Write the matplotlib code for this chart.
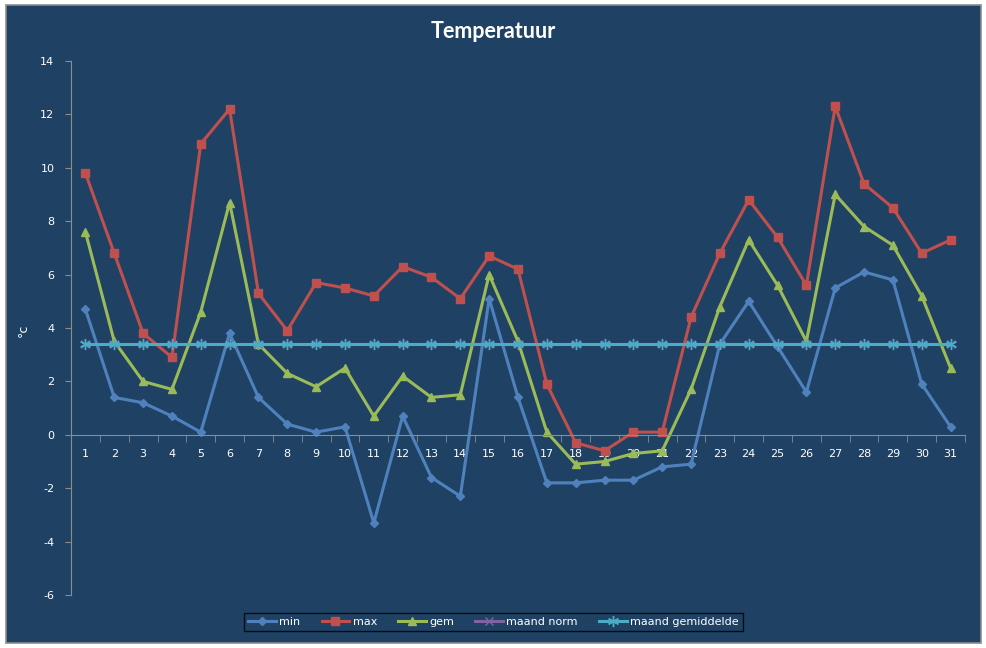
import matplotlib.pyplot as plt
from matplotlib.patches import Rectangle
from matplotlib.ticker import FixedLocator

plt.rcParams["axes.unicode_minus"] = False

days = list(range(1, 32))

t_min = [4.7, 1.4, 1.2, 0.7, 0.1, 3.8, 1.4, 0.4, 0.1, 0.3,
         -3.3, 0.7, -1.6, -2.3, 5.1, 1.4, -1.8, -1.8, -1.7, -1.7,
         -1.2, -1.1, 3.4, 5.0, 3.3, 1.6, 5.5, 6.1, 5.8, 1.9, 0.3]
t_max = [9.8, 6.8, 3.8, 2.9, 10.9, 12.2, 5.3, 3.9, 5.7, 5.5,
         5.2, 6.3, 5.9, 5.1, 6.7, 6.2, 1.9, -0.3, -0.6, 0.1,
         0.1, 4.4, 6.8, 8.8, 7.4, 5.6, 12.3, 9.4, 8.5, 6.8, 7.3]
t_gem = [7.6, 3.5, 2.0, 1.7, 4.6, 8.7, 3.4, 2.3, 1.8, 2.5,
         0.7, 2.2, 1.4, 1.5, 6.0, 3.5, 0.1, -1.1, -1.0, -0.7,
         -0.6, 1.7, 4.8, 7.3, 5.6, 3.5, 9.0, 7.8, 7.1, 5.2, 2.5]
maand_norm = [3.4] * 31
maand_gem = [3.4] * 31

bg = "#1F4264"
grey = "#8C8C8C"

fig = plt.figure(figsize=(9.87, 6.48), dpi=100, facecolor="white")

# chart area with grey border
fig.patches.append(Rectangle((6 / 987, 5 / 648), 975 / 987, 638 / 648,
                             transform=fig.transFigure, facecolor=bg,
                             edgecolor=grey, linewidth=1.2, zorder=-10))

ax = fig.add_axes([71 / 987, 1 - 595 / 648, 894 / 987, 534 / 648])
ax.patch.set_alpha(0)

ax.plot(days, t_min, color="#4F81BD", lw=2.2, marker="D", ms=4.5, label="min")
ax.plot(days, t_max, color="#C0504D", lw=2.2, marker="s", ms=6, label="max")
ax.plot(days, t_gem, color="#9BBB59", lw=2.2, marker="^", ms=6, label="gem")
ax.plot(days, maand_norm, color="#8064A2", lw=2.2, marker="x", ms=6,
        label="maand norm")
ax.plot(days, maand_gem, color="#4BACC6", lw=2.2, marker=(6, 2, 0), ms=8,
        mew=1, label="maand gemiddelde")

ax.set_xlim(0.5, 31.5)
ax.set_ylim(-6, 14)
ax.set_yticks(range(-6, 15, 2))

for side in ["top", "right"]:
    ax.spines[side].set_visible(False)
ax.spines["left"].set_color(grey)
ax.spines["bottom"].set_color(grey)
ax.spines["bottom"].set_position(("data", 0))

ax.set_xticks(days)
ax.set_xticklabels([str(d) for d in days])
ax.xaxis.set_minor_locator(FixedLocator([d + 0.5 for d in range(0, 32)]))
ax.tick_params(axis="x", which="major", length=0, pad=10, labelsize=8,
               labelcolor="white")
ax.tick_params(axis="x", which="minor", length=5, color=grey, direction="out")
ax.tick_params(axis="y", length=4, color=grey, labelsize=8,
               labelcolor="white", pad=8)

ax.set_ylabel("°c", color="white", fontsize=9)
ax.yaxis.set_label_coords(-41 / 894, (595 - 330) / 534)

fig.text(0.5, 1 - 32 / 648, "Temperatuur", ha="center", va="center",
         color="white", fontsize=15.5, fontweight="bold", family="Lato")

leg = fig.legend(loc="center", bbox_to_anchor=(0.5, 1 - 622 / 648), ncol=5,
                 frameon=True, fancybox=False, fontsize=8, handlelength=2.5,
                 handletextpad=0.3, columnspacing=1.9, borderpad=0.4)
leg.get_frame().set_facecolor(bg)
leg.get_frame().set_edgecolor("black")
for t in leg.get_texts():
    t.set_color("white")

fig.savefig("out.png", dpi=100, facecolor="white")
